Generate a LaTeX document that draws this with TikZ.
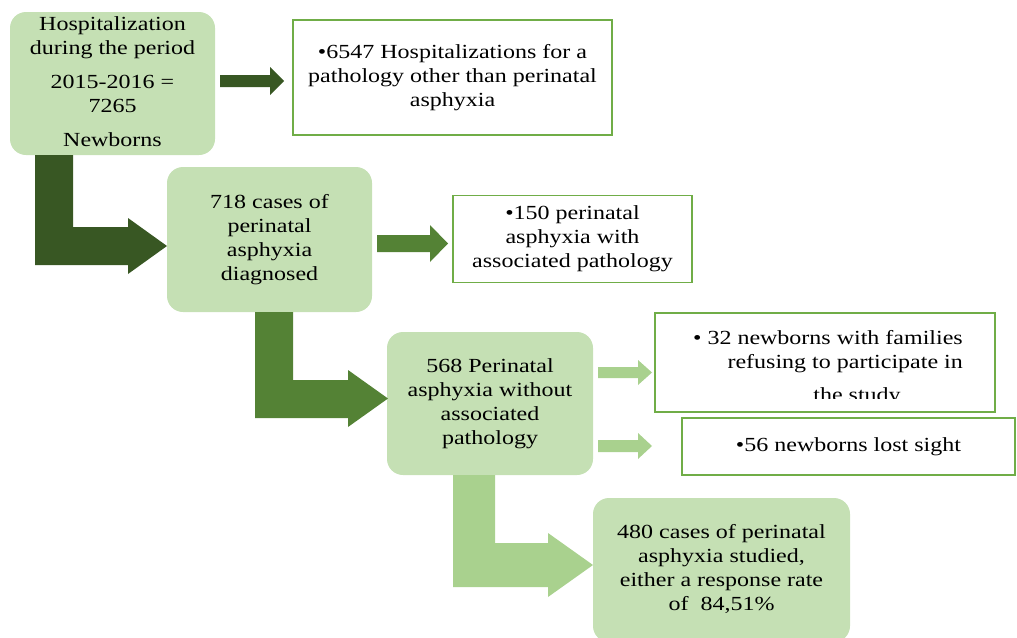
\documentclass[tikz,border=0pt]{standalone}
\usepackage{fontspec}
\usepackage{graphicx}
\setmainfont{Liberation Serif}
\usetikzlibrary{positioning}
\definecolor{boxgreen}{HTML}{C5E0B4}
\definecolor{linegreen}{HTML}{70AD47}
\definecolor{darkgreen}{HTML}{385723}
\definecolor{midgreen}{HTML}{548235}
\definecolor{lightgreen}{HTML}{A9D18E}
% the text in the boxes is set a bit wide
\newcommand{\wtext}[2][c]{\scalebox{1.2}[1]{\begin{tabular}{@{}#1@{}}#2\end{tabular}}}

\begin{document}
\begin{tikzpicture}
	[x=1pt,y=-1pt,
	every node/.style={font=\fontsize{20}{24}\selectfont,inner sep=0pt},
	greenbox/.style={rounded corners=16pt,fill=boxgreen},
	whitebox/.style={draw=linegreen,line width=1.5pt,fill=white},
	darkarr/.style={fill=darkgreen},
	midarr/.style={fill=midgreen},
	lightarr/.style={fill=lightgreen}]
	\useasboundingbox (0,0) rectangle (1017,637);
	\clip (0,0) rectangle (1017,637);
	
	\node[greenbox,minimum width=205pt,minimum height=143pt] (hosp) at (112.5,83.5) {\wtext{Hospitalization\\during the period\\[10pt]2015-2016 =\\7265\\[10pt]Newborns}};
	\node[whitebox,minimum width=319pt,minimum height=115pt] (other) at (452.5,77.5) {\wtext{\textbullet6547 Hospitalizations for a\\pathology other than perinatal\\asphyxia}};
	\node[greenbox,minimum width=205pt,minimum height=145pt] (diag) at (269.5,239.5) {\wtext{718 cases of\\perinatal\\asphyxia\\diagnosed}};
	\node[whitebox,minimum width=239pt,minimum height=87pt] (assoc) at (572.5,239) {\wtext{\textbullet150 perinatal\\asphyxia with\\associated pathology}};
	\node[greenbox,minimum width=206pt,minimum height=143pt] (without) at (490,403.5) {\wtext{568 Perinatal\\asphyxia without\\associated\\pathology}};
	\node[whitebox,minimum width=340pt,minimum height=99pt] (refuse) at (825,362.5) {};
	\node[anchor=north east] (refusetxt) at (963,327) {\wtext[r]{\textbullet\ 32 newborns with families\\refusing to participate in}};
	\begin{scope}
		\clip (657,315) rectangle (993,398);
		\node[anchor=base] (studytxt) at (857,402) {\wtext{the study}};
	\end{scope}
	\node[whitebox,minimum width=333pt,minimum height=57pt] (lost) at (848.5,446.5) {\wtext{\textbullet56 newborns lost sight}};
	\node[greenbox,minimum width=257pt,minimum height=144pt] (studied) at (721.5,570) {\wtext{480 cases of perinatal\\asphyxia studied,\\either a response rate\\of\ \ 84,51\%}};
	
	% block arrows to the side boxes
	\foreach \xa/\xb/\xt/\yc/\h/\hh/\col in {220/270/284/81/6/14/darkarr,377/430/448/243.5/8.5/18.5/midarr,598/638/652/372.5/5.5/12.5/lightarr,598/638/652/446/6/13/lightarr}
	\fill[\col] (\xa,\yc-\h) -- (\xb,\yc-\h) -- (\xb,\yc-\hh) -- (\xt,\yc) -- (\xb,\yc+\hh) -- (\xb,\yc+\h) -- (\xa,\yc+\h) -- cycle;
	
	% bent arrows down the chain
	\fill[darkarr] (35,155) -- (73,155) -- (73,227) -- (128,227) -- (128,218) -- (167,246) -- (128,274) -- (128,265) -- (35,265) -- cycle;
	\fill[midarr] (255,312) -- (293,312) -- (293,380) -- (348,380) -- (348,370) -- (388,398.5) -- (348,427) -- (348,418) -- (255,418) -- cycle;
	\fill[lightarr] (453,475) -- (495,475) -- (495,543) -- (548,543) -- (548,533) -- (593,565) -- (548,597) -- (548,587) -- (453,587) -- cycle;
	
\end{tikzpicture}
\end{document}
